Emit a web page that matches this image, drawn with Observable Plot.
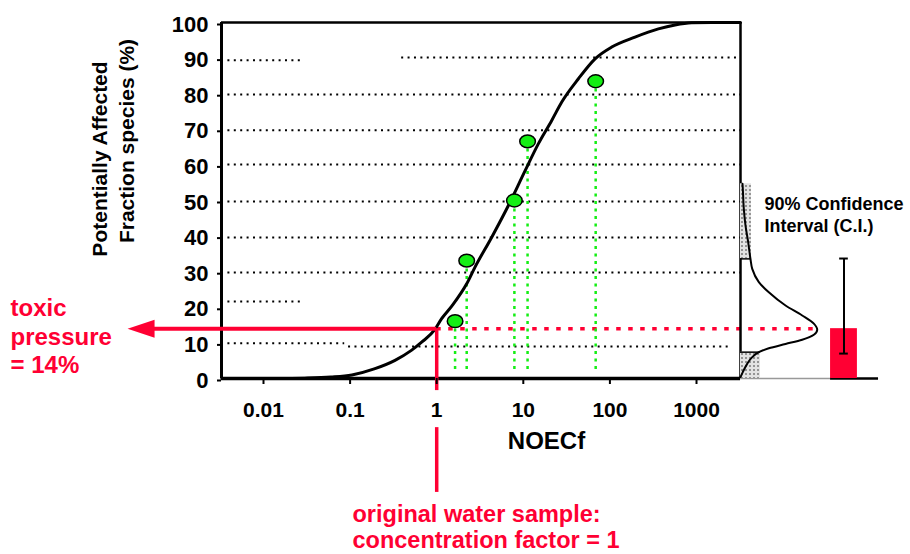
<!DOCTYPE html>
<html>
<head>
<meta charset="utf-8">
<script src="https://cdn.jsdelivr.net/npm/d3@7"></script>
<script src="https://cdn.jsdelivr.net/npm/@observablehq/plot@0.6"></script>
<style>
html, body { margin: 0; padding: 0; background: #fff; }
#chart { width: 910px; height: 554px; }
</style>
</head>
<body>
<div id="chart"></div>
<script>
// ---------- data ----------
const xTicks = [0.01, 0.1, 1, 10, 100, 1000];
const yTicks = [0, 10, 20, 30, 40, 50, 60, 70, 80, 90, 100];

// measured species NOECf values (green points)
const speciesNoec = [1.63, 2.22, 7.89, 11.2, 68.5];
const speciesPaf  = [16.1, 33.1, 50.0, 66.6, 83.5];

// fitted species sensitivity distribution (black curve)
const curveNoec = [0.0033, 0.015, 0.03, 0.06, 0.105, 0.19, 0.33, 0.51, 0.67, 0.95, 1.14, 1.5, 2.22, 2.77, 4.32, 6.73, 10.5, 14.9, 21.3, 27.7, 43.3, 67.4, 105, 195, 363, 565, 880, 1500, 3220];
const curvePaf  = [0, 0, 0.1, 0.4, 1.0, 2.7, 5.1, 7.9, 10.2, 13.7, 16.8, 20.4, 26.6, 31.3, 39.7, 48.6, 58.4, 65.9, 72.5, 77.6, 84.2, 89.8, 93.1, 95.9, 98.2, 99.3, 99.9, 100, 100];

// probability density of the toxic pressure (right panel), relative to its peak
const densityPaf   = [54.7, 53.3, 47.7, 43.0, 38.3, 33.6, 30.8, 27.1, 24.2, 20.5, 17.7, 15.4, 13.7, 12.3, 10.9, 9.7, 8.5, 7.4, 6.0, 4.1, 1.8, 0.4];
const densityValue = [0.026, 0.03, 0.043, 0.065, 0.10, 0.13, 0.153, 0.239, 0.369, 0.587, 0.804, 0.956, 1.0, 0.956, 0.804, 0.587, 0.369, 0.239, 0.153, 0.087, 0.03, 0];

// shaded tails outside the 90% confidence interval
const tailFrom    = [0, 33.6];
const tailTo      = [7.4, 54.7];
const tailDensity = [0.26, 0.143];

const toxicPressure = 14;   // %
const ciLow = 7.0, ciHigh = 33.7;
const sampleFactor = 1;

// dotted horizontal guide lines (as drawn, some only partially)
const gridPaf  = [89.4, 90.2, 79.8, 69.7, 60.1, 49.7, 39.6, 29.8, 21.6, 9.9, 9.0];
const gridFrom = [null, 0.394, null, null, null, null, null, null, null, null, 0.096];
const gridTo   = [0.0276, null, null, null, null, null, null, null, 0.0276, 0.0866, 2417];

// ---------- layout helpers ----------
const xMin = 10 ** -2.485, xMax = 10 ** 3.508;
const right = dec => xMax * 10 ** dec;        // positions right of the frame, in decades
const peakDec = 0.886;                         // width of the density peak, in decades
const arrowTip = xMin * 10 ** -1.085;
const red = "#ff0033", green = "#14ee14";
const font = "'Liberation Sans', Arial, Helvetica, sans-serif";

const curve = curveNoec.map((x, i) => ({x, y: curvePaf[i]}));
const species = speciesNoec.map((x, i) => ({x, y: speciesPaf[i]}));
const density = densityPaf.map((y, i) => ({y, d: densityValue[i]}));
const tails = tailFrom.map((y1, i) => ({y1, y2: tailTo[i], d: tailDensity[i]}));
const grid = gridPaf.map((y, i) => ({y, x1: gridFrom[i] ?? xMin, x2: gridTo[i] ?? xMax}));

const ellipse = {
  draw(ctx) {
    const rx = 7.8, ry = 6.4, k = 0.5523;
    ctx.moveTo(rx, 0);
    ctx.bezierCurveTo(rx, ry * k, rx * k, ry, 0, ry);
    ctx.bezierCurveTo(-rx * k, ry, -rx, ry * k, -rx, 0);
    ctx.bezierCurveTo(-rx, -ry * k, -rx * k, -ry, 0, -ry);
    ctx.bezierCurveTo(rx * k, -ry, rx, -ry * k, rx, 0);
    ctx.closePath();
  }
};
const arrowHead = {
  draw(ctx) {
    ctx.moveTo(0, 0);
    ctx.lineTo(27, -9);
    ctx.lineTo(27, 9);
    ctx.closePath();
  }
};

const txt = {fontWeight: "bold", text: d => d};

const svg = Plot.plot({
  width: 910,
  height: 554,
  marginLeft: 221,
  marginRight: 170,
  marginTop: 22,
  marginBottom: 176,
  style: {fontFamily: font, background: "#fff", color: "#000", overflow: "visible"},
  x: {type: "log", domain: [xMin, xMax]},
  y: {domain: [0, 100]},
  marks: [
    // guide lines
    Plot.ruleY(grid, {y: "y", x1: "x1", x2: "x2", stroke: "#000", strokeWidth: 2, strokeDasharray: "2,4.4"}),
    // red dotted toxic pressure level
    Plot.ruleY([toxicPressure], {y: d => d, x1: sampleFactor, x2: right(peakDec), stroke: red, strokeWidth: 3.5, strokeDasharray: "4.5,7.5"}),
    // green drop lines
    Plot.ruleX(species, {x: "x", y1: 2.5, y2: "y", stroke: green, strokeWidth: 2.5, strokeDasharray: "3,4.5"}),
    // SSD curve
    Plot.line(curve, {x: "x", y: "y", curve: "monotone-x", stroke: "#000", strokeWidth: 3}),
    // species points
    Plot.dot(species, {x: "x", y: "y", symbol: ellipse, fill: green, stroke: "#000", strokeWidth: 1.5}),
    // frame
    Plot.ruleX([xMin], {x: d => d, y1: 0, y2: 100, stroke: "#000", strokeWidth: 3}),
    Plot.ruleX([xMax], {x: d => d, y1: 0, y2: 100, stroke: "#000", strokeWidth: 2.5}),
    Plot.ruleY([100], {y: d => d, x1: xMin, x2: xMax, stroke: "#000", strokeWidth: 2.5}),
    Plot.ruleY([0], {y: d => d, x1: xMin, x2: xMax, stroke: "#000", strokeWidth: 3.5}),
    Plot.ruleY([0], {y: d => d, x1: xMax, x2: right(1.04), stroke: "#999", strokeWidth: 1.5}),
    Plot.ruleY([0], {y: d => d, x1: right(1.04), x2: right(1.594), stroke: "#000", strokeWidth: 2.5}),
    // density panel
    Plot.rect(tails, {x1: xMax, x2: d => right(d.d * peakDec), y1: "y1", y2: "y2", fill: "url(#dots)"}),
    Plot.ruleY([tailTo[0], tailFrom[1]], {y: d => d, x1: xMax, x2: (d, i) => right(tailDensity[i] * peakDec), stroke: "#000", strokeWidth: 1.5}),
    Plot.line(density, {x: d => right(d.d * peakDec), y: "y", curve: "monotone-y", stroke: "#000", strokeWidth: 2}),
    // toxic pressure bar + 90% CI
    Plot.rect([toxicPressure], {x1: right(1.04), x2: right(1.35), y1: 0, y2: d => d, fill: red}),
    Plot.ruleX([{lo: ciLow, hi: ciHigh}], {x: right(1.195), y1: "lo", y2: "hi", stroke: "#000", strokeWidth: 2}),
    Plot.ruleY([ciLow, ciHigh], {y: d => d, x1: right(1.145), x2: right(1.245), stroke: "#000", strokeWidth: 2}),
    // red arrow and sample marker
    Plot.ruleX([sampleFactor], {x: d => d, y1: toxicPressure, y2: -3.4, stroke: red, strokeWidth: 3.5}),
    Plot.ruleX([sampleFactor], {x: d => d, y1: -13.8, y2: -32, stroke: red, strokeWidth: 3.5}),
    Plot.ruleY([toxicPressure], {y: d => d, x1: arrowTip * 10 ** 0.25, x2: sampleFactor, stroke: red, strokeWidth: 4}),
    Plot.dot([toxicPressure], {x: arrowTip, y: d => d, symbol: arrowHead, fill: red, stroke: "none"}),
    // axes
    Plot.axisX({ticks: xTicks, tickFormat: d => String(d), tickSize: 6, tickPadding: 18, fontSize: 21, fontWeight: "bold", label: null, strokeWidth: 2}),
    Plot.axisY({ticks: yTicks, tickFormat: d => String(d), tickSize: 4, tickPadding: 9, fontSize: 22, fontWeight: "bold", label: null, strokeWidth: 2, dy: 2}),
    // texts
    Plot.text(["NOECf"], {...txt, frameAnchor: "bottom", dx: 65.5, dy: 53.7, lineAnchor: "top", fontSize: 24}),
    Plot.text(["Potentially Affected"], {...txt, frameAnchor: "top-left", dx: -121, dy: 136.5, rotate: -90, textAnchor: "middle", lineAnchor: "middle", fontSize: 21}),
    Plot.text(["Fraction species (%)"], {...txt, frameAnchor: "top-left", dx: -94, dy: 118.5, rotate: -90, textAnchor: "middle", lineAnchor: "middle", fontSize: 21}),
    Plot.text(["toxic\npressure\n= 14%"], {...txt, frameAnchor: "top-left", dx: -211, dy: 274, textAnchor: "start", lineAnchor: "top", lineHeight: 1.17, fontSize: 24, fill: red}),
    Plot.text(["original water sample:\nconcentration factor = 1"], {...txt, frameAnchor: "top-left", dx: 131, dy: 481, textAnchor: "start", lineAnchor: "top", lineHeight: 1.1, fontSize: 23.5, fill: red}),
    Plot.text(["90% Confidence\nInterval (C.I.)"], {...txt, frameAnchor: "top-left", dx: 543, dy: 172.4, textAnchor: "start", lineAnchor: "top", lineHeight: 1.22, fontSize: 18, fill: "#000"})
  ]
});

const defs = document.createElementNS("http://www.w3.org/2000/svg", "defs");
defs.innerHTML = '<pattern id="dots" width="4" height="4" patternUnits="userSpaceOnUse"><rect width="4" height="4" fill="#e2e2e2"/><circle cx="2" cy="2" r="1" fill="#7a7a7a"/></pattern>';
svg.insertBefore(defs, svg.firstChild);
document.getElementById("chart").appendChild(svg);
</script>
</body>
</html>
